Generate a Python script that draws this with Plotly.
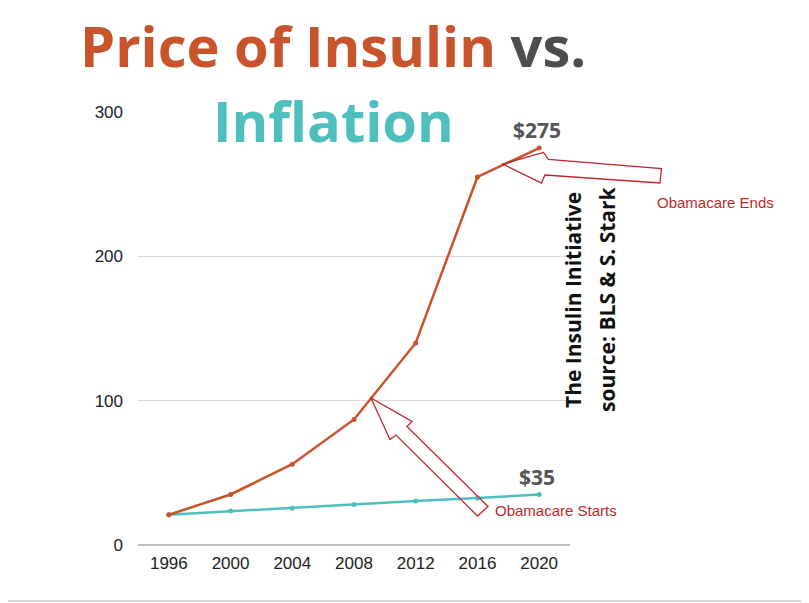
import plotly.graph_objects as go

years = [1996, 2000, 2004, 2008, 2012, 2016, 2020]
insulin_price = [21, 35, 56, 87, 140, 255, 275]
inflation_price = [21, 23.5, 25.5, 28, 30.5, 32.5, 35]

x_ticks = [1996, 2000, 2004, 2008, 2012, 2016, 2020]
y_ticks = [0, 100, 200, 300]

ORANGE = "#c9532b"
TEAL = "#4fbfbe"
RED = "#c0272d"
GREY = "#555555"

# the page body adds an 8px margin, so the figure is a bit smaller than the window
OFF = 8
W, H = 809 - OFF, 603 - OFF
L, T = 138 - OFF, 112 - OFF
R, B = W - (570 - OFF), H - (545 - OFF)
PW, PH = W - L - R, H - T - B


def to_paper(px, py):
    # px, py are window pixels
    return (px - OFF - L) / PW, (H - B - (py - OFF)) / PH


def outline_path(points):
    pts = [to_paper(x, y) for x, y in points]
    return "M " + " L ".join(f"{x:.4f},{y:.4f}" for x, y in pts) + " Z"


# hollow block arrows (pixel outlines)
start_arrow = [(371, 398), (412, 421.5), (407, 426.5), (488, 506.5),
               (477.5, 516), (396, 435), (390, 439.5)]
end_arrow = [(502.5, 164), (543.5, 152.5), (548.5, 159.5), (661.5, 168.5),
             (660, 183), (545, 175), (541.5, 183)]

fig = go.Figure()
fig.add_trace(go.Scatter(
    x=years, y=inflation_price, mode="lines+markers",
    line=dict(color=TEAL, width=2.5), marker=dict(size=5, color=TEAL),
))
fig.add_trace(go.Scatter(
    x=years, y=insulin_price, mode="lines+markers",
    line=dict(color=ORANGE, width=2.5), marker=dict(size=5, color=ORANGE),
))

for arrow in (start_arrow, end_arrow):
    fig.add_shape(type="path", xref="paper", yref="paper",
                  path=outline_path(arrow),
                  line=dict(color=RED, width=1.3), fillcolor="rgba(0,0,0,0)")

# slide border at the bottom
x0, yb = to_paper(OFF, 601)
x1, _ = to_paper(809, 601)
fig.add_shape(type="line", xref="paper", yref="paper", x0=x0, x1=x1, y0=yb, y1=yb,
              line=dict(color="#c8c8c8", width=1.5))

annotations = []


def note(text, px, py, size, color, family="Open Sans", weight=700,
         xanchor="center", angle=0):
    ax, ay = to_paper(px, py)
    annotations.append(dict(
        text=text, x=ax, y=ay, xref="paper", yref="paper", showarrow=False,
        xanchor=xanchor, yanchor="middle", textangle=angle,
        font=dict(family=family, size=size, color=color, weight=weight),
    ))


note(f"<span style='color:{ORANGE}'>Price of Insulin</span> "
     f"<span style='color:#4d4d4d'>vs.</span>", 78, 45, 56, ORANGE, xanchor="left")
note("Inflation", 333, 120, 56, TEAL)
note("$275", 537, 130, 21, GREY)
note("$35", 537, 477, 21, GREY)
note("The Insulin Initiative", 573, 300, 21, "#111111", angle=-90)
note("source: BLS &amp; S. Stark", 607, 299, 21, "#111111", angle=-90)
note("Obamacare Starts", 493, 510, 15, RED, family="Liberation Sans",
     weight=400, xanchor="left")
note("Obamacare Ends", 655, 202, 15, RED, family="Liberation Sans",
     weight=400, xanchor="left")

fig.update_layout(
    width=W, height=H,
    margin=dict(l=L, r=R, t=T, b=B),
    paper_bgcolor="white", plot_bgcolor="white",
    showlegend=False,
    font=dict(family="Liberation Sans", size=17, color="#222222"),
    annotations=annotations,
    xaxis=dict(range=[1994, 2022], tickvals=x_ticks, showgrid=False,
               zeroline=False, showline=False, ticks="", ticklen=0,
               ticklabelstandoff=6, fixedrange=True),
    yaxis=dict(range=[0, 300], tickvals=y_ticks, showgrid=True,
               gridcolor="#d9d9d9", gridwidth=1, zeroline=True,
               zerolinecolor="#bfbfbf", zerolinewidth=1.5, ticks="",
               ticklabelstandoff=14, fixedrange=True),
)

fig.write_html("out.html")
